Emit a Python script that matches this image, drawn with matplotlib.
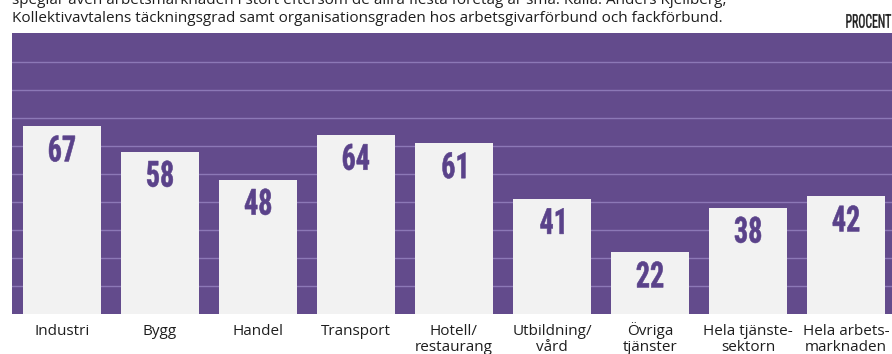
import matplotlib
matplotlib.use("Agg")
import matplotlib.pyplot as plt
from matplotlib import font_manager
from matplotlib.font_manager import FontProperties
from matplotlib.textpath import TextPath
from matplotlib.patches import PathPatch
from matplotlib.transforms import Affine2D, IdentityTransform

# =====================
# DATA
# =====================
categories = ["Industri", "Bygg", "Handel", "Transport", "Hotell/\nrestaurang",
              "Utbildning/\nvård", "Övriga\ntjänster", "Hela tjänste-\nsektorn",
              "Hela arbets-\nmarknaden"]
values = [67, 58, 48, 64, 61, 41, 22, 38, 42]
gridlines = [10, 20, 30, 40, 50, 60, 70, 80, 90]

intro_line1 = ("speglar även arbetsmarknaden i stort eftersom de allra flesta "
               "företag är små. Källa: Anders Kjellberg,")
intro_line2 = ("Kollektivavtalens täckningsgrad samt organisationsgraden hos "
               "arbetsgivarförbund och fackförbund.")
unit_label = "PROCENT"

# =====================
# STYLE
# =====================
PURPLE = "#634b8c"
NUM_PURPLE = "#5a428a"
GRID = "#8c78b6"
BAR = "#f2f2f2"
TEXT = "#1e1e1e"
W, H = 892, 354

installed = {f.name for f in font_manager.fontManager.ttflist}


def first_font(names, default="DejaVu Sans"):
    for n in names:
        if n in installed:
            return n
    return default


body_font = first_font(["Open Sans", "Lato", "DejaVu Sans"])
narrow_font = first_font(["Liberation Sans Narrow", "DejaVu Sans Condensed",
                          "Roboto Condensed", "Liberation Sans"])


def squeezed_text(fig, x_px, top_px, s, em_px, sx, color, ha="center",
                  weight="bold", stroke=0.0):
    """Draw a horizontally squeezed label; x/top in display pixels."""
    prop = FontProperties(family=narrow_font, weight=weight)
    tp = TextPath((0, 0), s, size=em_px, prop=prop)
    ext = tp.get_extents()
    if ha == "center":
        tx = x_px - sx * (ext.x0 + ext.width / 2)
    elif ha == "right":
        tx = x_px - sx * ext.x1
    else:
        tx = x_px - sx * ext.x0
    ty = top_px - ext.y1
    path = Affine2D().scale(sx, 1).translate(tx, ty).transform_path(tp)
    patch = PathPatch(path, facecolor=color, edgecolor=color, lw=stroke,
                      transform=IdentityTransform(), zorder=5)
    fig.add_artist(patch)


fig = plt.figure(figsize=(W / 100, H / 100), dpi=100)
fig.patch.set_facecolor("white")

# plot area in pixels: left 12, top 33, bottom 314, runs off the right edge
ax = fig.add_axes([12 / W, 40 / H, 1 - 12 / W, 281 / H])
ax.set_facecolor(PURPLE)

x = list(range(len(categories)))
ax.set_xlim(-0.51, 8.47)
ax.set_ylim(0, 100.4)

for g in gridlines:
    ax.axhline(g, color=GRID, lw=1.0, zorder=1)

ax.bar(x, values, width=0.8, color=BAR, zorder=2)

# value labels inside the top of each bar
for xi, v in zip(x, values):
    px, py = ax.transData.transform((xi, v))
    squeezed_text(fig, px, py - 9, str(v), em_px=36, sx=0.78,
                  color=NUM_PURPLE, stroke=0.4)

for s in ax.spines.values():
    s.set_visible(False)
ax.set_xticks([])
ax.set_yticks([])

# category names under the bars, one text per line on fixed baselines
first_base = 335
line_step = 16
for xi, name in zip(x, categories):
    for i, line in enumerate(name.split("\n")):
        base_y = (H - (first_base + i * line_step) - 40) / 281
        ax.text(xi, base_y, line, transform=ax.get_xaxis_transform(),
                ha="center", va="baseline", fontsize=11, color=TEXT,
                family=body_font, clip_on=False)

# header text above the plot
fig.text(12 / W, 1 - 4 / H, intro_line1, ha="left", va="baseline",
         fontsize=11, color=TEXT, family=body_font)
fig.text(12 / W, 1 - 22 / H, intro_line2, ha="left", va="baseline",
         fontsize=11, color=TEXT, family=body_font)
squeezed_text(fig, 891, H - 14, unit_label, em_px=19, sx=0.62, color=TEXT,
              ha="right", weight="normal", stroke=0.3)

fig.savefig("out.png", dpi=100, facecolor="white")
